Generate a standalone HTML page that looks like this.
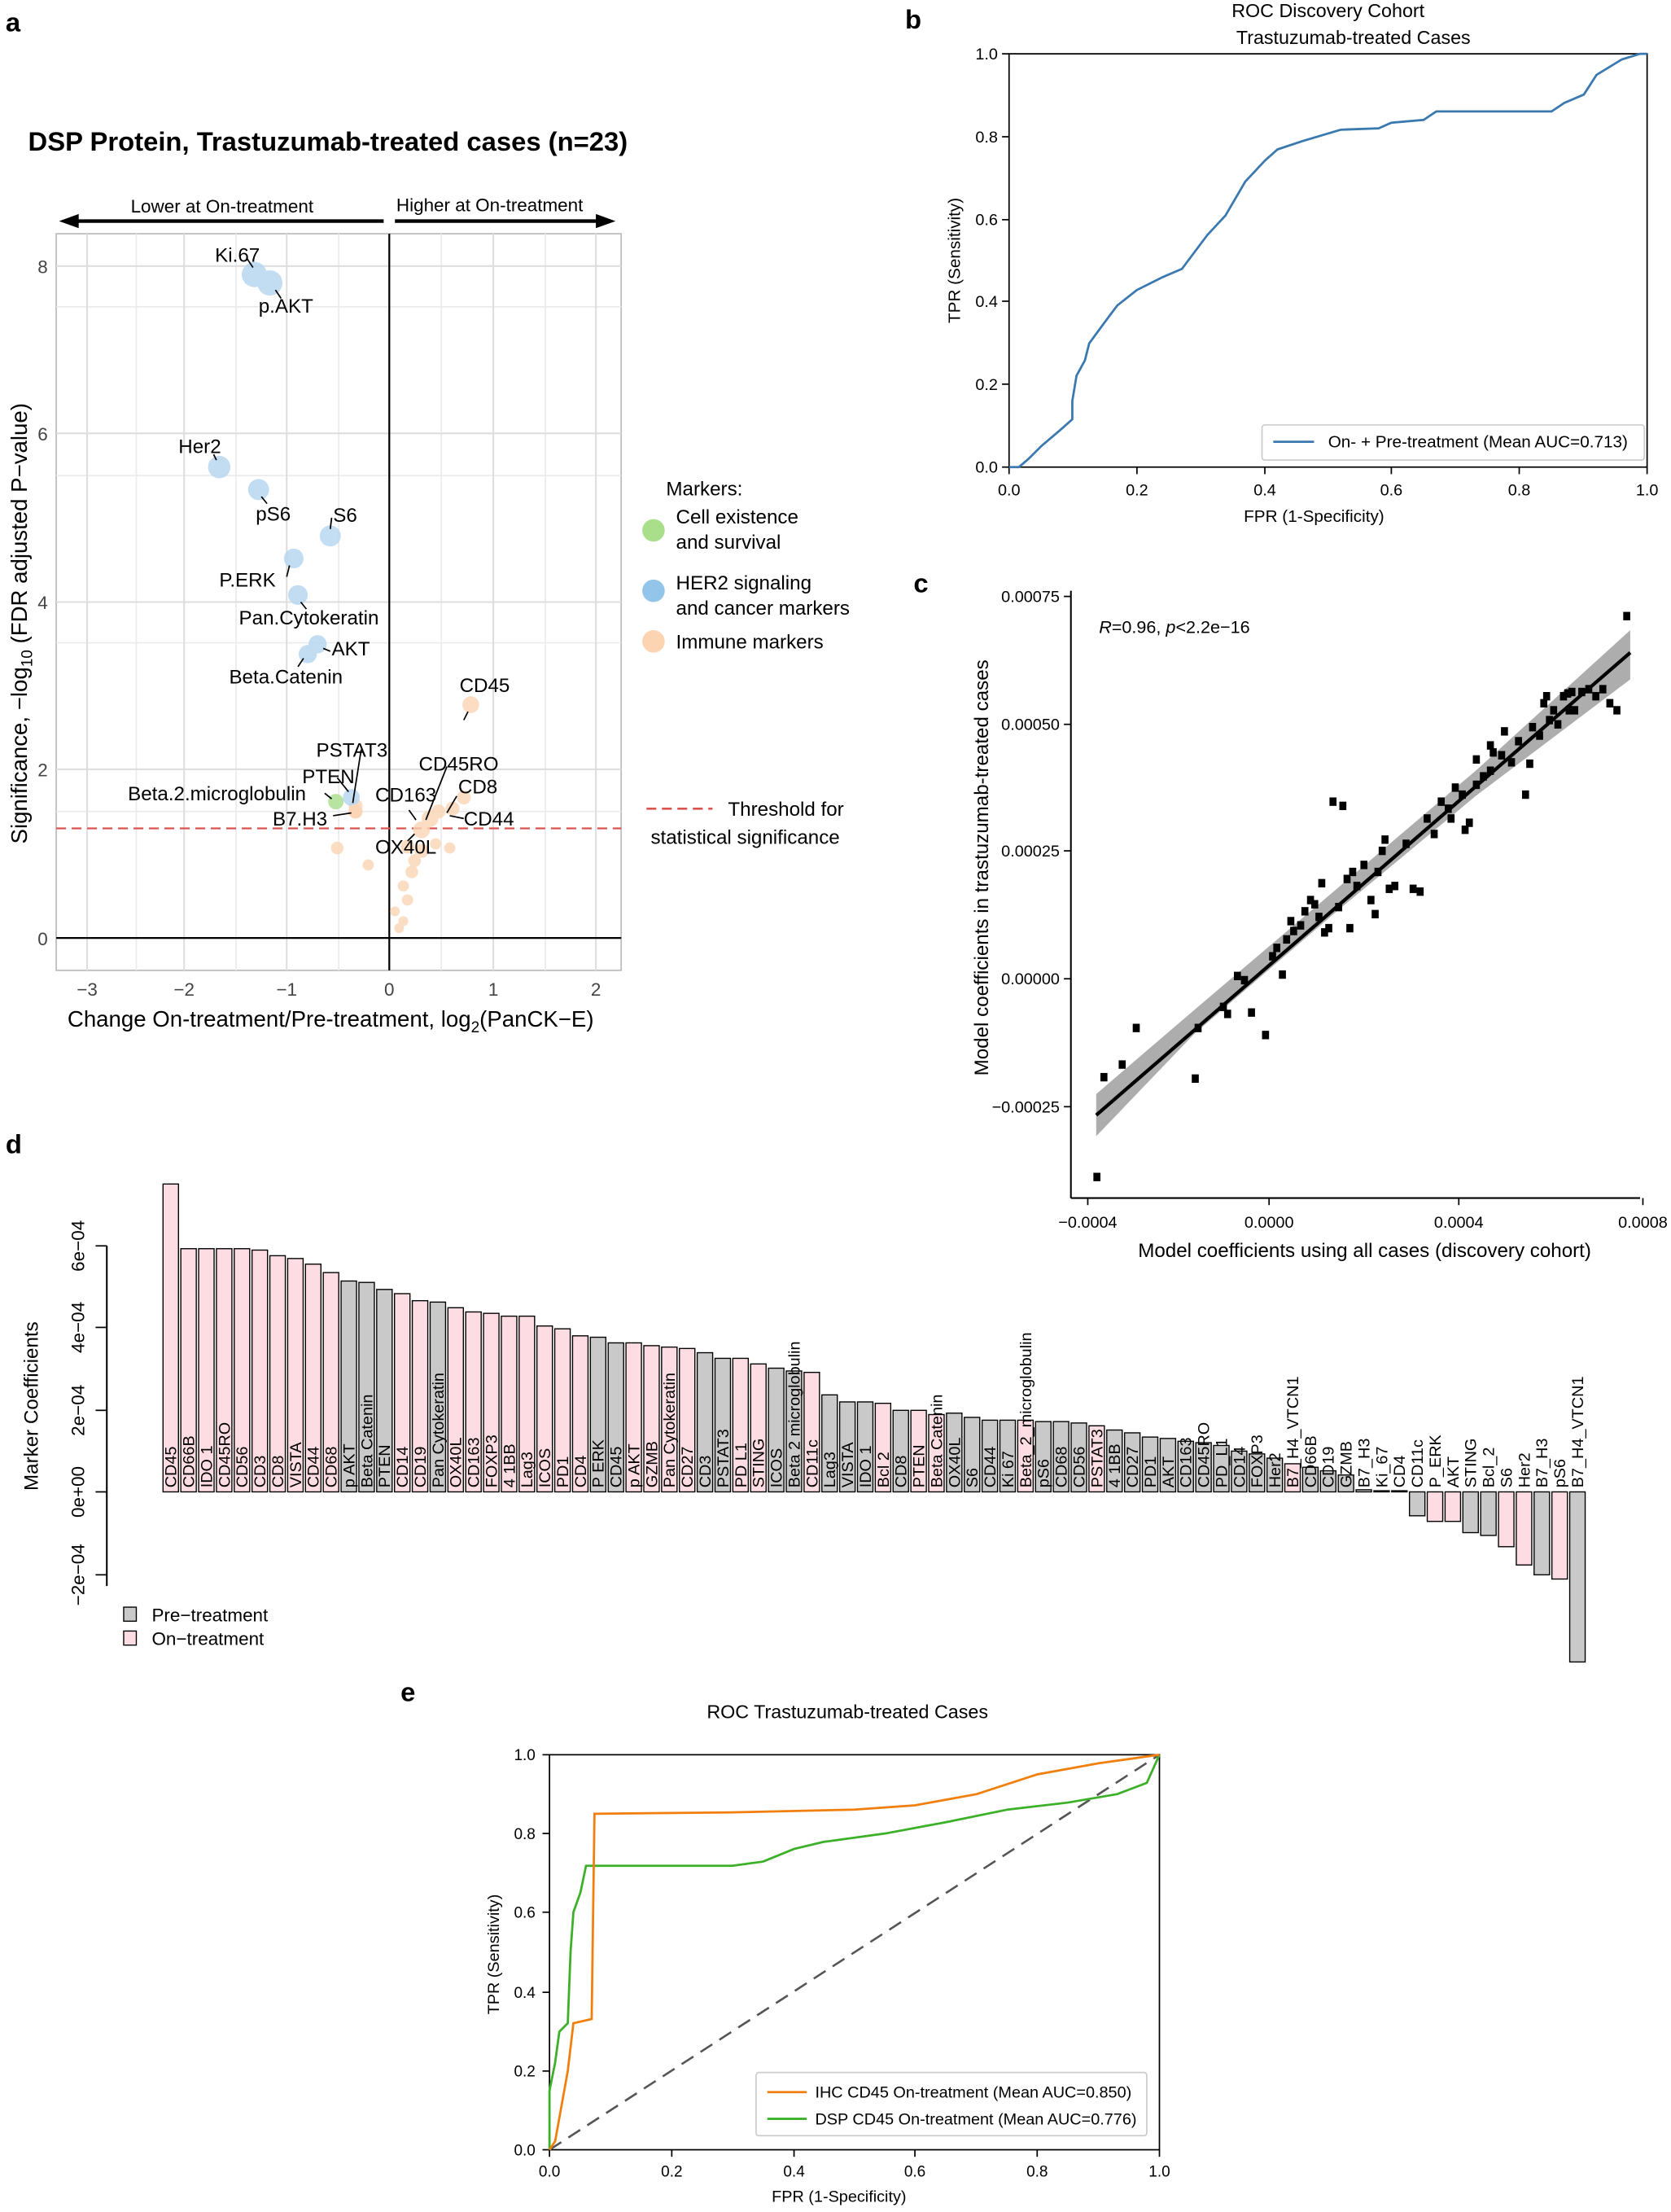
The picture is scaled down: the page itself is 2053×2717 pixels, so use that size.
<!DOCTYPE html>
<html><head><meta charset="utf-8"><style>
html,body{margin:0;padding:0;background:#fff}
svg{display:block}
text{font-family:"Liberation Sans","DejaVu Sans",sans-serif}
.bl text{font-size:11.5px}
</style></head><body>
<svg width="2053" height="2717" viewBox="0 0 1189 1573" xmlns="http://www.w3.org/2000/svg">
<rect width="1189" height="1573" fill="#fff"/>
<g font-weight="bold" font-size="19">
<text x="4" y="22">a</text><text x="644" y="20">b</text><text x="650" y="421">c</text><text x="4" y="820">d</text><text x="285" y="1210">e</text>
</g>
<text x="20" y="107" font-size="19" font-weight="bold">DSP Protein, Trastuzumab-treated cases (n=23)</text>
<text x="93" y="151" font-size="13">Lower at On-treatment</text>
<text x="282" y="150" font-size="13">Higher at On-treatment</text>
<line x1="52" y1="157" x2="273" y2="157" stroke="#000" stroke-width="2.5"/>
<polygon points="42,157 56,152 56,162" fill="#000"/>
<line x1="281" y1="157" x2="428" y2="157" stroke="#000" stroke-width="2.5"/>
<polygon points="438,157 424,152 424,162" fill="#000"/>
<rect x="40" y="166" width="402" height="524" fill="#fff" stroke="#bbb"/>
<g stroke="#ebebeb" stroke-width="1">
<line x1="40" y1="218" x2="442" y2="218"/><line x1="40" y1="338" x2="442" y2="338"/><line x1="40" y1="457" x2="442" y2="457"/><line x1="40" y1="577" x2="442" y2="577"/>
<line x1="97" y1="166" x2="97" y2="690"/><line x1="168" y1="166" x2="168" y2="690"/><line x1="241" y1="166" x2="241" y2="690"/><line x1="314" y1="166" x2="314" y2="690"/><line x1="388" y1="166" x2="388" y2="690"/>
</g>
<g stroke="#dedede" stroke-width="1.2">
<line x1="40" y1="189" x2="442" y2="189"/><line x1="40" y1="308" x2="442" y2="308"/><line x1="40" y1="428" x2="442" y2="428"/><line x1="40" y1="547" x2="442" y2="547"/>
<line x1="62" y1="166" x2="62" y2="690"/><line x1="131" y1="166" x2="131" y2="690"/><line x1="204" y1="166" x2="204" y2="690"/><line x1="351" y1="166" x2="351" y2="690"/><line x1="424" y1="166" x2="424" y2="690"/>
</g>
<line x1="40" y1="667" x2="442" y2="667" stroke="#000" stroke-width="1.3"/>
<line x1="277" y1="166" x2="277" y2="690" stroke="#000" stroke-width="1.3"/>
<line x1="40" y1="589" x2="442" y2="589" stroke="#d9534f" stroke-width="1.3" stroke-dasharray="7,4"/>
<g font-size="13" fill="#444" text-anchor="end">
<text x="34" y="194">8</text><text x="34" y="313">6</text><text x="34" y="433">4</text><text x="34" y="552">2</text><text x="34" y="672">0</text>
</g>
<g font-size="13" fill="#444" text-anchor="middle">
<text x="62" y="708">−3</text><text x="131" y="708">−2</text><text x="204" y="708">−1</text><text x="277" y="708">0</text><text x="351" y="708">1</text><text x="424" y="708">2</text>
</g>
<text x="48" y="730" font-size="16">Change On-treatment/Pre-treatment, log<tspan font-size="11" dy="4">2</tspan><tspan dy="-4">(PanCK−E)</tspan></text>
<text transform="translate(19,600) rotate(-90)" font-size="16">Significance, −log<tspan font-size="11" dy="4">10</tspan><tspan dy="-4"> (FDR adjusted P−value)</tspan></text>
<g fill="#fbd5b5" opacity="0.8">
<circle cx="335" cy="501" r="6"/><circle cx="240" cy="603" r="4.5"/><circle cx="262" cy="615" r="4"/><circle cx="290" cy="602" r="5"/><circle cx="293" cy="620" r="4.5"/><circle cx="290" cy="640" r="4"/><circle cx="287" cy="655" r="3.5"/><circle cx="281" cy="648" r="3.5"/><circle cx="300" cy="590" r="6"/><circle cx="306" cy="582" r="6"/><circle cx="312" cy="577" r="5"/><circle cx="322" cy="575" r="5"/><circle cx="300" cy="605" r="5"/><circle cx="295" cy="612" r="4.5"/><circle cx="287" cy="630" r="4"/><circle cx="253" cy="573" r="5"/><circle cx="330" cy="567" r="5"/><circle cx="310" cy="600" r="4"/><circle cx="284" cy="660" r="3.5"/><circle cx="320" cy="603" r="4"/>
</g>
<g fill="#b8d8f0" opacity="0.85">
<circle cx="181" cy="195" r="9"/><circle cx="192" cy="201" r="9"/><circle cx="156" cy="332" r="8"/><circle cx="184" cy="348" r="7.5"/><circle cx="235" cy="381" r="7.5"/><circle cx="209" cy="397" r="7"/><circle cx="212" cy="423" r="7"/><circle cx="226" cy="458" r="6.5"/><circle cx="219" cy="465" r="6.5"/><circle cx="250" cy="567" r="6"/>
</g>
<circle cx="239" cy="570" r="5.5" fill="#b9e3a0"/>
<circle cx="253" cy="577" r="5" fill="#fbd5b5"/>
<g stroke="#000" stroke-width="1">
<line x1="180" y1="190" x2="176" y2="184"/><line x1="196" y1="206" x2="200" y2="212"/><line x1="154" y1="327" x2="152" y2="323"/><line x1="186" y1="353" x2="190" y2="358"/><line x1="235" y1="376" x2="236" y2="368"/><line x1="206" y1="402" x2="204" y2="410"/><line x1="214" y1="428" x2="218" y2="433"/><line x1="230" y1="461" x2="235" y2="463"/><line x1="216" y1="468" x2="212" y2="474"/><line x1="251" y1="571" x2="257" y2="533"/><line x1="248" y1="563" x2="240" y2="553"/><line x1="236" y1="568" x2="231" y2="564"/><line x1="250" y1="578" x2="237" y2="580"/><line x1="333" y1="506" x2="330" y2="512"/><line x1="318" y1="578" x2="325" y2="566"/><line x1="303" y1="583" x2="318" y2="545"/><line x1="296" y1="583" x2="291" y2="576"/><line x1="320" y1="580" x2="330" y2="582"/><line x1="295" y1="593" x2="290" y2="598"/>
</g>
<g font-size="14">
<text x="153" y="186">Ki.67</text><text x="184" y="222">p.AKT</text><text x="127" y="322">Her2</text><text x="182" y="370">pS6</text><text x="237" y="371">S6</text><text x="156" y="417">P.ERK</text><text x="170" y="444">Pan.Cytokeratin</text><text x="236" y="466">AKT</text><text x="163" y="486">Beta.Catenin</text><text x="327" y="492">CD45</text><text x="225" y="538">PSTAT3</text><text x="215" y="557">PTEN</text><text x="91" y="569">Beta.2.microglobulin</text><text x="194" y="587">B7.H3</text><text x="298" y="548">CD45RO</text><text x="267" y="570">CD163</text><text x="326" y="564">CD8</text><text x="330" y="587">CD44</text><text x="267" y="607">OX40L</text>
</g>
<text x="474" y="352" font-size="14">Markers:</text>
<circle cx="465" cy="377" r="8" fill="#a9df8a"/><text x="481" y="372" font-size="14">Cell existence</text><text x="481" y="390" font-size="14">and survival</text>
<circle cx="465" cy="420" r="8" fill="#93c5ea"/><text x="481" y="419" font-size="14">HER2 signaling</text><text x="481" y="437" font-size="14">and cancer markers</text>
<circle cx="465" cy="456" r="8" fill="#fcd4b2"/><text x="481" y="461" font-size="14">Immune markers</text>
<line x1="460" y1="575" x2="507" y2="575" stroke="#d9534f" stroke-width="1.5" stroke-dasharray="7,4"/>
<text x="518" y="580" font-size="14">Threshold for</text><text x="463" y="600" font-size="14">statistical significance</text>
<!-- Panel b -->
<text x="945" y="12" font-size="13.5" text-anchor="middle">ROC Discovery Cohort</text>
<text x="963" y="31" font-size="13.5" text-anchor="middle">Trastuzumab-treated Cases</text>
<rect x="718" y="38" width="454" height="294" fill="none" stroke="#000" stroke-width="1"/>
<g font-size="11.5" text-anchor="end">
<text x="710" y="336">0.0</text><text x="710" y="277">0.2</text><text x="710" y="218">0.4</text><text x="710" y="160">0.6</text><text x="710" y="101">0.8</text><text x="710" y="42">1.0</text>
</g>
<g stroke="#000"><line x1="713" y1="332" x2="718" y2="332"/><line x1="713" y1="273" x2="718" y2="273"/><line x1="713" y1="214" x2="718" y2="214"/><line x1="713" y1="156" x2="718" y2="156"/><line x1="713" y1="97" x2="718" y2="97"/><line x1="713" y1="38" x2="718" y2="38"/>
<line x1="718" y1="332" x2="718" y2="337"/><line x1="809" y1="332" x2="809" y2="337"/><line x1="900" y1="332" x2="900" y2="337"/><line x1="990" y1="332" x2="990" y2="337"/><line x1="1081" y1="332" x2="1081" y2="337"/><line x1="1172" y1="332" x2="1172" y2="337"/></g>
<g font-size="11.5" text-anchor="middle">
<text x="718" y="352">0.0</text><text x="809" y="352">0.2</text><text x="900" y="352">0.4</text><text x="990" y="352">0.6</text><text x="1081" y="352">0.8</text><text x="1172" y="352">1.0</text>
</g>
<text x="935" y="371" font-size="12" text-anchor="middle">FPR (1-Specificity)</text>
<text transform="translate(683,185) rotate(-90)" font-size="12" text-anchor="middle">TPR (Sensitivity)</text>
<polyline fill="none" stroke="#3a78b0" stroke-width="1.6" points="718,332 725,332 732,326 741,317 754,306 763,298 763,285 766,267 772,256 775,244 786,229 795,217 809,206 827,197 841,191 859,167 872,153 886,129 900,114 909,106 927,100 954,92 981,91 990,87 1013,85 1022,79 1104,79 1113,73 1127,67 1136,53 1154,42 1167,38 1172,38"/>
<rect x="898" y="302" width="272" height="25" fill="#fff" stroke="#ccc" rx="2"/>
<line x1="906" y1="314" x2="935" y2="314" stroke="#3a78b0" stroke-width="1.6"/>
<text x="945" y="318" font-size="12">On- + Pre-treatment (Mean AUC=0.713)</text>
<!-- Panel c -->
<line x1="762" y1="420" x2="762" y2="852" stroke="#000" stroke-width="1.2"/>
<line x1="762" y1="852" x2="1167" y2="852" stroke="#000" stroke-width="1.2"/>
<g stroke="#000"><line x1="757" y1="424" x2="762" y2="424"/><line x1="757" y1="515" x2="762" y2="515"/><line x1="757" y1="605" x2="762" y2="605"/><line x1="757" y1="696" x2="762" y2="696"/><line x1="757" y1="787" x2="762" y2="787"/>
<line x1="774" y1="852" x2="774" y2="857"/><line x1="903" y1="852" x2="903" y2="857"/><line x1="1038" y1="852" x2="1038" y2="857"/><line x1="1169" y1="852" x2="1169" y2="857"/></g>
<g font-size="11.5" text-anchor="end">
<text x="754" y="428">0.00075</text><text x="754" y="519">0.00050</text><text x="754" y="609">0.00025</text><text x="754" y="700">0.00000</text><text x="754" y="791">−0.00025</text>
</g>
<g font-size="11.5" text-anchor="middle">
<text x="774" y="873">−0.0004</text><text x="903" y="873">0.0000</text><text x="1038" y="873">0.0004</text><text x="1169" y="873">0.0008</text>
</g>
<text x="971" y="894" font-size="14" text-anchor="middle">Model coefficients using all cases (discovery cohort)</text>
<text transform="translate(703,617) rotate(-90)" font-size="14" text-anchor="middle">Model coefficients in trastuzumab-treated cases</text>
<text x="782" y="450" font-size="12.5"><tspan font-style="italic">R</tspan>=0.96, <tspan font-style="italic">p</tspan>&lt;2.2e−16</text>
<polygon points="780,778 850,718 950,633 1050,548 1160,448 1160,483 1050,566 950,649 850,735 780,808" fill="#999" opacity="0.8"/>
<line x1="780" y1="793" x2="1160" y2="464" stroke="#000" stroke-width="2.5"/>
<g fill="#000">
<rect x="778" y="834" width="5" height="6"/><rect x="783" y="763" width="5" height="6"/><rect x="796" y="754" width="5" height="6"/><rect x="806" y="728" width="5" height="6"/><rect x="848" y="764" width="5" height="6"/><rect x="850" y="728" width="5" height="6"/><rect x="868" y="713" width="5" height="6"/><rect x="871" y="718" width="5" height="6"/><rect x="878" y="691" width="5" height="6"/><rect x="883" y="694" width="5" height="6"/><rect x="888" y="717" width="5" height="6"/><rect x="898" y="733" width="5" height="6"/><rect x="903" y="677" width="5" height="6"/><rect x="906" y="671" width="5" height="6"/><rect x="910" y="690" width="5" height="6"/><rect x="913" y="665" width="5" height="6"/><rect x="916" y="652" width="5" height="6"/><rect x="918" y="659" width="5" height="6"/><rect x="923" y="655" width="5" height="6"/><rect x="926" y="645" width="5" height="6"/><rect x="930" y="637" width="5" height="6"/><rect x="933" y="640" width="5" height="6"/><rect x="936" y="649" width="5" height="6"/><rect x="938" y="625" width="5" height="6"/><rect x="943" y="657" width="5" height="6"/><rect x="946" y="567" width="5" height="6"/><rect x="953" y="570" width="5" height="6"/><rect x="950" y="642" width="5" height="6"/><rect x="956" y="622" width="5" height="6"/><rect x="960" y="617" width="5" height="6"/><rect x="963" y="627" width="5" height="6"/><rect x="968" y="612" width="5" height="6"/><rect x="973" y="637" width="5" height="6"/><rect x="978" y="617" width="5" height="6"/><rect x="981" y="602" width="5" height="6"/><rect x="986" y="629" width="5" height="6"/><rect x="990" y="627" width="5" height="6"/><rect x="998" y="597" width="5" height="6"/><rect x="1003" y="629" width="5" height="6"/><rect x="1008" y="631" width="5" height="6"/><rect x="1013" y="579" width="5" height="6"/><rect x="1018" y="590" width="5" height="6"/><rect x="1023" y="567" width="5" height="6"/><rect x="1028" y="572" width="5" height="6"/><rect x="1033" y="557" width="5" height="6"/><rect x="1038" y="562" width="5" height="6"/><rect x="1040" y="587" width="5" height="6"/><rect x="1043" y="582" width="5" height="6"/><rect x="1048" y="555" width="5" height="6"/><rect x="1053" y="549" width="5" height="6"/><rect x="1058" y="545" width="5" height="6"/><rect x="1060" y="532" width="5" height="6"/><rect x="1066" y="534" width="5" height="6"/><rect x="1068" y="517" width="5" height="6"/><rect x="1073" y="539" width="5" height="6"/><rect x="1078" y="524" width="5" height="6"/><rect x="1083" y="562" width="5" height="6"/><rect x="1086" y="540" width="5" height="6"/><rect x="1088" y="514" width="5" height="6"/><rect x="1093" y="520" width="5" height="6"/><rect x="1096" y="497" width="5" height="6"/><rect x="1098" y="492" width="5" height="6"/><rect x="1100" y="509" width="5" height="6"/><rect x="1103" y="502" width="5" height="6"/><rect x="1106" y="512" width="5" height="6"/><rect x="1110" y="492" width="5" height="6"/><rect x="1113" y="490" width="5" height="6"/><rect x="1116" y="489" width="5" height="6"/><rect x="1118" y="502" width="5" height="6"/><rect x="1123" y="489" width="5" height="6"/><rect x="1128" y="487" width="5" height="6"/><rect x="1133" y="492" width="5" height="6"/><rect x="1138" y="487" width="5" height="6"/><rect x="1143" y="497" width="5" height="6"/><rect x="1148" y="502" width="5" height="6"/><rect x="1155" y="435" width="5" height="6"/><rect x="1114" y="502" width="5" height="6"/><rect x="1058" y="527" width="5" height="6"/><rect x="1048" y="537" width="5" height="6"/><rect x="1030" y="579" width="5" height="6"/><rect x="976" y="647" width="5" height="6"/><rect x="983" y="594" width="5" height="6"/><rect x="958" y="657" width="5" height="6"/><rect x="940" y="660" width="5" height="6"/>
</g>
<!-- Panel d -->
<line x1="76" y1="886" x2="76" y2="1128" stroke="#000" stroke-width="1.2"/>
<g stroke="#000"><line x1="68" y1="886" x2="76" y2="886"/><line x1="68" y1="944" x2="76" y2="944"/><line x1="68" y1="1003" x2="76" y2="1003"/><line x1="68" y1="1061" x2="76" y2="1061"/><line x1="68" y1="1120" x2="76" y2="1120"/></g>
<g font-size="13" text-anchor="middle">
<text transform="translate(60,886) rotate(-90)">6e−04</text><text transform="translate(60,944) rotate(-90)">4e−04</text><text transform="translate(60,1003) rotate(-90)">2e−04</text><text transform="translate(60,1061) rotate(-90)">0e+00</text><text transform="translate(60,1120) rotate(-90)">−2e−04</text>
</g>
<text transform="translate(27,1000) rotate(-90)" font-size="14" text-anchor="middle">Marker Coefficients</text>
<rect x="88" y="1143" width="9" height="10" fill="#c9c9c9" stroke="#000" stroke-width="0.8"/><text x="108" y="1153" font-size="13">Pre−treatment</text>
<rect x="88" y="1160" width="9" height="10" fill="#fddde3" stroke="#000" stroke-width="0.8"/><text x="108" y="1170" font-size="13">On−treatment</text>
<g class="bl" transform="translate(116,1061)" stroke-width="0.8">
<g transform="translate(0,0)"><rect x="0" y="-219" width="11" height="219" fill="#fddde3" stroke="#000"/><text transform="translate(9.5,-3) rotate(-90)">CD45</text></g>
<g transform="translate(12.67,0)"><rect x="0" y="-173" width="11" height="173" fill="#fddde3" stroke="#000"/><text transform="translate(9.5,-3) rotate(-90)">CD66B</text></g>
<g transform="translate(25.34,0)"><rect x="0" y="-173" width="11" height="173" fill="#fddde3" stroke="#000"/><text transform="translate(9.5,-3) rotate(-90)">IDO 1</text></g>
<g transform="translate(38.01,0)"><rect x="0" y="-173" width="11" height="173" fill="#fddde3" stroke="#000"/><text transform="translate(9.5,-3) rotate(-90)">CD45RO</text></g>
<g transform="translate(50.68,0)"><rect x="0" y="-173" width="11" height="173" fill="#fddde3" stroke="#000"/><text transform="translate(9.5,-3) rotate(-90)">CD56</text></g>
<g transform="translate(63.35,0)"><rect x="0" y="-172" width="11" height="172" fill="#fddde3" stroke="#000"/><text transform="translate(9.5,-3) rotate(-90)">CD3</text></g>
<g transform="translate(76.02,0)"><rect x="0" y="-168" width="11" height="168" fill="#fddde3" stroke="#000"/><text transform="translate(9.5,-3) rotate(-90)">CD8</text></g>
<g transform="translate(88.69,0)"><rect x="0" y="-166" width="11" height="166" fill="#fddde3" stroke="#000"/><text transform="translate(9.5,-3) rotate(-90)">VISTA</text></g>
<g transform="translate(101.36,0)"><rect x="0" y="-162" width="11" height="162" fill="#fddde3" stroke="#000"/><text transform="translate(9.5,-3) rotate(-90)">CD44</text></g>
<g transform="translate(114.03,0)"><rect x="0" y="-156" width="11" height="156" fill="#fddde3" stroke="#000"/><text transform="translate(9.5,-3) rotate(-90)">CD68</text></g>
<g transform="translate(126.7,0)"><rect x="0" y="-150" width="11" height="150" fill="#c9c9c9" stroke="#000"/><text transform="translate(9.5,-3) rotate(-90)">p AKT</text></g>
<g transform="translate(139.37,0)"><rect x="0" y="-149" width="11" height="149" fill="#c9c9c9" stroke="#000"/><text transform="translate(9.5,-3) rotate(-90)">Beta Catenin</text></g>
<g transform="translate(152.04,0)"><rect x="0" y="-144" width="11" height="144" fill="#c9c9c9" stroke="#000"/><text transform="translate(9.5,-3) rotate(-90)">PTEN</text></g>
<g transform="translate(164.71,0)"><rect x="0" y="-141" width="11" height="141" fill="#fddde3" stroke="#000"/><text transform="translate(9.5,-3) rotate(-90)">CD14</text></g>
<g transform="translate(177.38,0)"><rect x="0" y="-136" width="11" height="136" fill="#fddde3" stroke="#000"/><text transform="translate(9.5,-3) rotate(-90)">CD19</text></g>
<g transform="translate(190.05,0)"><rect x="0" y="-135" width="11" height="135" fill="#c9c9c9" stroke="#000"/><text transform="translate(9.5,-3) rotate(-90)">Pan Cytokeratin</text></g>
<g transform="translate(202.72,0)"><rect x="0" y="-131" width="11" height="131" fill="#fddde3" stroke="#000"/><text transform="translate(9.5,-3) rotate(-90)">OX40L</text></g>
<g transform="translate(215.39,0)"><rect x="0" y="-128" width="11" height="128" fill="#fddde3" stroke="#000"/><text transform="translate(9.5,-3) rotate(-90)">CD163</text></g>
<g transform="translate(228.06,0)"><rect x="0" y="-127" width="11" height="127" fill="#fddde3" stroke="#000"/><text transform="translate(9.5,-3) rotate(-90)">FOXP3</text></g>
<g transform="translate(240.73,0)"><rect x="0" y="-125" width="11" height="125" fill="#fddde3" stroke="#000"/><text transform="translate(9.5,-3) rotate(-90)">4 1BB</text></g>
<g transform="translate(253.4,0)"><rect x="0" y="-125" width="11" height="125" fill="#fddde3" stroke="#000"/><text transform="translate(9.5,-3) rotate(-90)">Lag3</text></g>
<g transform="translate(266.07,0)"><rect x="0" y="-118" width="11" height="118" fill="#fddde3" stroke="#000"/><text transform="translate(9.5,-3) rotate(-90)">ICOS</text></g>
<g transform="translate(278.74,0)"><rect x="0" y="-116" width="11" height="116" fill="#fddde3" stroke="#000"/><text transform="translate(9.5,-3) rotate(-90)">PD1</text></g>
<g transform="translate(291.41,0)"><rect x="0" y="-111" width="11" height="111" fill="#fddde3" stroke="#000"/><text transform="translate(9.5,-3) rotate(-90)">CD4</text></g>
<g transform="translate(304.08,0)"><rect x="0" y="-110" width="11" height="110" fill="#c9c9c9" stroke="#000"/><text transform="translate(9.5,-3) rotate(-90)">P ERK</text></g>
<g transform="translate(316.75,0)"><rect x="0" y="-106" width="11" height="106" fill="#c9c9c9" stroke="#000"/><text transform="translate(9.5,-3) rotate(-90)">CD45</text></g>
<g transform="translate(329.42,0)"><rect x="0" y="-106" width="11" height="106" fill="#fddde3" stroke="#000"/><text transform="translate(9.5,-3) rotate(-90)">p AKT</text></g>
<g transform="translate(342.09,0)"><rect x="0" y="-104" width="11" height="104" fill="#fddde3" stroke="#000"/><text transform="translate(9.5,-3) rotate(-90)">GZMB</text></g>
<g transform="translate(354.76,0)"><rect x="0" y="-103" width="11" height="103" fill="#fddde3" stroke="#000"/><text transform="translate(9.5,-3) rotate(-90)">Pan Cytokeratin</text></g>
<g transform="translate(367.43,0)"><rect x="0" y="-102" width="11" height="102" fill="#fddde3" stroke="#000"/><text transform="translate(9.5,-3) rotate(-90)">CD27</text></g>
<g transform="translate(380.1,0)"><rect x="0" y="-99" width="11" height="99" fill="#c9c9c9" stroke="#000"/><text transform="translate(9.5,-3) rotate(-90)">CD3</text></g>
<g transform="translate(392.77,0)"><rect x="0" y="-95" width="11" height="95" fill="#c9c9c9" stroke="#000"/><text transform="translate(9.5,-3) rotate(-90)">PSTAT3</text></g>
<g transform="translate(405.44,0)"><rect x="0" y="-95" width="11" height="95" fill="#fddde3" stroke="#000"/><text transform="translate(9.5,-3) rotate(-90)">PD L1</text></g>
<g transform="translate(418.11,0)"><rect x="0" y="-91" width="11" height="91" fill="#fddde3" stroke="#000"/><text transform="translate(9.5,-3) rotate(-90)">STING</text></g>
<g transform="translate(430.78,0)"><rect x="0" y="-88" width="11" height="88" fill="#c9c9c9" stroke="#000"/><text transform="translate(9.5,-3) rotate(-90)">ICOS</text></g>
<g transform="translate(443.45,0)"><rect x="0" y="-86" width="11" height="86" fill="#c9c9c9" stroke="#000"/><text transform="translate(9.5,-3) rotate(-90)">Beta 2 microglobulin</text></g>
<g transform="translate(456.12,0)"><rect x="0" y="-85" width="11" height="85" fill="#fddde3" stroke="#000"/><text transform="translate(9.5,-3) rotate(-90)">CD11c</text></g>
<g transform="translate(468.79,0)"><rect x="0" y="-69" width="11" height="69" fill="#c9c9c9" stroke="#000"/><text transform="translate(9.5,-3) rotate(-90)">Lag3</text></g>
<g transform="translate(481.46,0)"><rect x="0" y="-64" width="11" height="64" fill="#c9c9c9" stroke="#000"/><text transform="translate(9.5,-3) rotate(-90)">VISTA</text></g>
<g transform="translate(494.13,0)"><rect x="0" y="-64" width="11" height="64" fill="#c9c9c9" stroke="#000"/><text transform="translate(9.5,-3) rotate(-90)">IDO 1</text></g>
<g transform="translate(506.8,0)"><rect x="0" y="-63" width="11" height="63" fill="#fddde3" stroke="#000"/><text transform="translate(9.5,-3) rotate(-90)">Bcl 2</text></g>
<g transform="translate(519.47,0)"><rect x="0" y="-58" width="11" height="58" fill="#c9c9c9" stroke="#000"/><text transform="translate(9.5,-3) rotate(-90)">CD8</text></g>
<g transform="translate(532.14,0)"><rect x="0" y="-58" width="11" height="58" fill="#fddde3" stroke="#000"/><text transform="translate(9.5,-3) rotate(-90)">PTEN</text></g>
<g transform="translate(544.81,0)"><rect x="0" y="-55" width="11" height="55" fill="#fddde3" stroke="#000"/><text transform="translate(9.5,-3) rotate(-90)">Beta Catenin</text></g>
<g transform="translate(557.48,0)"><rect x="0" y="-56" width="11" height="56" fill="#c9c9c9" stroke="#000"/><text transform="translate(9.5,-3) rotate(-90)">OX40L</text></g>
<g transform="translate(570.15,0)"><rect x="0" y="-53" width="11" height="53" fill="#c9c9c9" stroke="#000"/><text transform="translate(9.5,-3) rotate(-90)">S6</text></g>
<g transform="translate(582.82,0)"><rect x="0" y="-51" width="11" height="51" fill="#c9c9c9" stroke="#000"/><text transform="translate(9.5,-3) rotate(-90)">CD44</text></g>
<g transform="translate(595.49,0)"><rect x="0" y="-51" width="11" height="51" fill="#c9c9c9" stroke="#000"/><text transform="translate(9.5,-3) rotate(-90)">Ki 67</text></g>
<g transform="translate(608.16,0)"><rect x="0" y="-51" width="11" height="51" fill="#fddde3" stroke="#000"/><text transform="translate(9.5,-3) rotate(-90)">Beta_2_microglobulin</text></g>
<g transform="translate(620.83,0)"><rect x="0" y="-50" width="11" height="50" fill="#c9c9c9" stroke="#000"/><text transform="translate(9.5,-3) rotate(-90)">pS6</text></g>
<g transform="translate(633.5,0)"><rect x="0" y="-50" width="11" height="50" fill="#c9c9c9" stroke="#000"/><text transform="translate(9.5,-3) rotate(-90)">CD68</text></g>
<g transform="translate(646.17,0)"><rect x="0" y="-49" width="11" height="49" fill="#c9c9c9" stroke="#000"/><text transform="translate(9.5,-3) rotate(-90)">CD56</text></g>
<g transform="translate(658.84,0)"><rect x="0" y="-47" width="11" height="47" fill="#fddde3" stroke="#000"/><text transform="translate(9.5,-3) rotate(-90)">PSTAT3</text></g>
<g transform="translate(671.51,0)"><rect x="0" y="-44" width="11" height="44" fill="#c9c9c9" stroke="#000"/><text transform="translate(9.5,-3) rotate(-90)">4 1BB</text></g>
<g transform="translate(684.18,0)"><rect x="0" y="-42" width="11" height="42" fill="#c9c9c9" stroke="#000"/><text transform="translate(9.5,-3) rotate(-90)">CD27</text></g>
<g transform="translate(696.85,0)"><rect x="0" y="-39" width="11" height="39" fill="#c9c9c9" stroke="#000"/><text transform="translate(9.5,-3) rotate(-90)">PD1</text></g>
<g transform="translate(709.52,0)"><rect x="0" y="-38" width="11" height="38" fill="#c9c9c9" stroke="#000"/><text transform="translate(9.5,-3) rotate(-90)">AKT</text></g>
<g transform="translate(722.19,0)"><rect x="0" y="-36" width="11" height="36" fill="#c9c9c9" stroke="#000"/><text transform="translate(9.5,-3) rotate(-90)">CD163</text></g>
<g transform="translate(734.86,0)"><rect x="0" y="-35" width="11" height="35" fill="#c9c9c9" stroke="#000"/><text transform="translate(9.5,-3) rotate(-90)">CD45RO</text></g>
<g transform="translate(747.53,0)"><rect x="0" y="-33" width="11" height="33" fill="#c9c9c9" stroke="#000"/><text transform="translate(9.5,-3) rotate(-90)">PD_L1</text></g>
<g transform="translate(760.2,0)"><rect x="0" y="-29" width="11" height="29" fill="#c9c9c9" stroke="#000"/><text transform="translate(9.5,-3) rotate(-90)">CD14</text></g>
<g transform="translate(772.87,0)"><rect x="0" y="-27" width="11" height="27" fill="#c9c9c9" stroke="#000"/><text transform="translate(9.5,-3) rotate(-90)">FOXP3</text></g>
<g transform="translate(785.54,0)"><rect x="0" y="-24" width="11" height="24" fill="#c9c9c9" stroke="#000"/><text transform="translate(9.5,-3) rotate(-90)">Her2</text></g>
<g transform="translate(798.21,0)"><rect x="0" y="-20" width="11" height="20" fill="#fddde3" stroke="#000"/><text transform="translate(9.5,-3) rotate(-90)">B7_H4_VTCN1</text></g>
<g transform="translate(810.88,0)"><rect x="0" y="-17.5" width="11" height="17.5" fill="#c9c9c9" stroke="#000"/><text transform="translate(9.5,-3) rotate(-90)">CD66B</text></g>
<g transform="translate(823.55,0)"><rect x="0" y="-15" width="11" height="15" fill="#c9c9c9" stroke="#000"/><text transform="translate(9.5,-3) rotate(-90)">CD19</text></g>
<g transform="translate(836.22,0)"><rect x="0" y="-12" width="11" height="12" fill="#c9c9c9" stroke="#000"/><text transform="translate(9.5,-3) rotate(-90)">GZMB</text></g>
<g transform="translate(848.89,0)"><rect x="0" y="-1.5" width="11" height="1.5" fill="#c9c9c9" stroke="#000"/><text transform="translate(9.5,-3) rotate(-90)">B7_H3</text></g>
<g transform="translate(861.56,0)"><rect x="0" y="-0.8" width="11" height="0.8" fill="#c9c9c9" stroke="#000"/><text transform="translate(9.5,-3) rotate(-90)">Ki_67</text></g>
<g transform="translate(874.23,0)"><rect x="0" y="-0.8" width="11" height="0.8" fill="#c9c9c9" stroke="#000"/><text transform="translate(9.5,-3) rotate(-90)">CD4</text></g>
<g transform="translate(886.9,0)"><rect x="0" y="0" width="11" height="17" fill="#c9c9c9" stroke="#000"/><text transform="translate(9.5,-3) rotate(-90)">CD11c</text></g>
<g transform="translate(899.57,0)"><rect x="0" y="0" width="11" height="21" fill="#fddde3" stroke="#000"/><text transform="translate(9.5,-3) rotate(-90)">P_ERK</text></g>
<g transform="translate(912.24,0)"><rect x="0" y="0" width="11" height="21" fill="#fddde3" stroke="#000"/><text transform="translate(9.5,-3) rotate(-90)">AKT</text></g>
<g transform="translate(924.91,0)"><rect x="0" y="0" width="11" height="29" fill="#c9c9c9" stroke="#000"/><text transform="translate(9.5,-3) rotate(-90)">STING</text></g>
<g transform="translate(937.58,0)"><rect x="0" y="0" width="11" height="31" fill="#c9c9c9" stroke="#000"/><text transform="translate(9.5,-3) rotate(-90)">Bcl_2</text></g>
<g transform="translate(950.25,0)"><rect x="0" y="0" width="11" height="39" fill="#fddde3" stroke="#000"/><text transform="translate(9.5,-3) rotate(-90)">S6</text></g>
<g transform="translate(962.92,0)"><rect x="0" y="0" width="11" height="52" fill="#fddde3" stroke="#000"/><text transform="translate(9.5,-3) rotate(-90)">Her2</text></g>
<g transform="translate(975.59,0)"><rect x="0" y="0" width="11" height="59" fill="#c9c9c9" stroke="#000"/><text transform="translate(9.5,-3) rotate(-90)">B7_H3</text></g>
<g transform="translate(988.26,0)"><rect x="0" y="0" width="11" height="62" fill="#fddde3" stroke="#000"/><text transform="translate(9.5,-3) rotate(-90)">pS6</text></g>
<g transform="translate(1000.93,0)"><rect x="0" y="0" width="11" height="121" fill="#c9c9c9" stroke="#000"/><text transform="translate(9.5,-3) rotate(-90)">B7_H4_VTCN1</text></g>
</g>
<!-- Panel e -->
<text x="603" y="1222" font-size="13.5" text-anchor="middle">ROC Trastuzumab-treated Cases</text>
<rect x="391" y="1248" width="434" height="281" fill="none" stroke="#000" stroke-width="1"/>
<g stroke="#000"><line x1="386" y1="1529" x2="391" y2="1529"/><line x1="386" y1="1473" x2="391" y2="1473"/><line x1="386" y1="1417" x2="391" y2="1417"/><line x1="386" y1="1360" x2="391" y2="1360"/><line x1="386" y1="1304" x2="391" y2="1304"/><line x1="386" y1="1248" x2="391" y2="1248"/>
<line x1="391" y1="1529" x2="391" y2="1534"/><line x1="478" y1="1529" x2="478" y2="1534"/><line x1="565" y1="1529" x2="565" y2="1534"/><line x1="651" y1="1529" x2="651" y2="1534"/><line x1="738" y1="1529" x2="738" y2="1534"/><line x1="825" y1="1529" x2="825" y2="1534"/></g>
<g font-size="11" text-anchor="end">
<text x="381" y="1533">0.0</text><text x="381" y="1477">0.2</text><text x="381" y="1421">0.4</text><text x="381" y="1364">0.6</text><text x="381" y="1308">0.8</text><text x="381" y="1252">1.0</text>
</g>
<g font-size="11" text-anchor="middle">
<text x="391" y="1548">0.0</text><text x="478" y="1548">0.2</text><text x="565" y="1548">0.4</text><text x="651" y="1548">0.6</text><text x="738" y="1548">0.8</text><text x="825" y="1548">1.0</text>
</g>
<text x="597" y="1566" font-size="11.5" text-anchor="middle">FPR (1-Specificity)</text>
<text transform="translate(355,1390) rotate(-90)" font-size="11.5" text-anchor="middle">TPR (Sensitivity)</text>
<line x1="391" y1="1529" x2="825" y2="1248" stroke="#555" stroke-width="1.5" stroke-dasharray="10,6"/>
<polyline fill="none" stroke="#3cb029" stroke-width="1.6" points="391,1529 391,1487 395,1467 398,1445 404,1439 406,1388 408,1360 413,1346 417,1327 521,1327 543,1324 565,1315 586,1310 630,1304 673,1296 717,1287 760,1282 795,1276 816,1268 825,1248"/>
<polyline fill="none" stroke="#f07f0e" stroke-width="1.6" points="391,1529 395,1523 404,1473 408,1439 421,1436 423,1290 521,1289 608,1287 651,1284 695,1276 738,1262 782,1254 825,1248"/>
<rect x="538" y="1474" width="278" height="45" fill="#fff" stroke="#ccc" rx="2"/>
<line x1="546" y1="1488" x2="574" y2="1488" stroke="#f07f0e" stroke-width="1.6"/>
<text x="580" y="1492" font-size="11.5">IHC CD45 On-treatment (Mean AUC=0.850)</text>
<line x1="546" y1="1507" x2="574" y2="1507" stroke="#3cb029" stroke-width="1.6"/>
<text x="580" y="1511" font-size="11.5">DSP CD45 On-treatment (Mean AUC=0.776)</text>
</svg>
</body></html>
